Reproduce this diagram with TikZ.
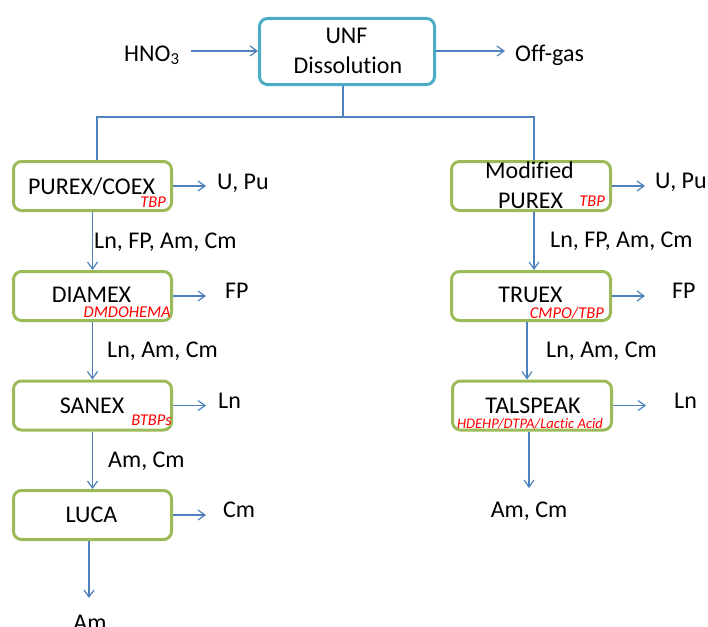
\documentclass[tikz,border=0pt]{standalone}
\usepackage{fontspec}
\setmainfont{Carlito}[RawFeature=-liga]
\usetikzlibrary{arrows.meta}
\definecolor{boxgreen}{HTML}{9BBB59}
\definecolor{boxcyan}{HTML}{4BACC6}
\definecolor{arrblue}{HTML}{4F81BD}
\begin{document}
\begin{tikzpicture}[x=1pt,y=-1pt,
  procbox/.style={draw=boxgreen, line width=3pt, rounded corners=8pt, minimum width=158pt, minimum height=49pt, inner sep=0pt},
  topbox/.style={procbox, draw=boxcyan, minimum width=175pt, minimum height=66pt},
  txt/.style={inner sep=0pt, font=\fontsize{24}{28}\selectfont, text=black},
  reagent/.style={inner sep=0pt, font=\fontsize{16.5}{18}\selectfont\itshape, text=red},
  conn/.style={draw=arrblue, line width=1.2pt},
  arr/.style={conn, -{Straight Barb[length=7pt,width=10pt]}}]
\useasboundingbox (0,0) rectangle (708,626);

% top
\node[topbox] (unf) at (347,51.5) {};
\node[txt, anchor=base] (unft) at (346.5,44) {UNF};
\node[txt, anchor=base] (dist) at (348,74) {Dissolution};
\node[txt, anchor=base west] (hno) at (124,61) {HNO\textsubscript{3}};
\node[txt, anchor=base west] (offgas) at (515,61) {Off-gas};
\coordinate (hnoA) at (191,51);
\coordinate (offA) at (505,51);
\draw[arr] (hnoA) -- (unf.west |- hnoA);
\draw[arr] (unf.east |- offA) -- (offA);

% boxes left
\node[procbox] (purex) at (92.5,186) {};
\node[procbox] (diamex) at (92.5,296) {};
\node[procbox] (sanex) at (92.5,405.5) {};
\node[procbox] (luca) at (92.5,515) {};
% boxes right
\node[procbox, minimum width=159pt] (mpurex) at (531,186) {};
\node[procbox, minimum width=159pt] (truex) at (531,296) {};
\node[procbox, minimum width=159pt] (talspeak) at (532,405.5) {};

% splitter
\coordinate (jc) at (343,117);
\coordinate (jl) at (97,117);
\coordinate (jr) at (534,117);
\draw[conn] (unf.south -| jc) -- (jc);
\draw[conn] (jl |- purex.north) -- (jl) -- (jr) -- (jr |- mpurex.north);

% left texts
\node[txt, anchor=base] (purext) at (91.5,194) {PUREX/COEX};
\node[reagent, anchor=base east] (tbp1) at (166,207) {TBP};
\node[txt, anchor=base west] (upu1) at (217,189) {U, Pu};
\node[txt, anchor=base west] (l1) at (94,248) {Ln, FP, Am, Cm};
\node[txt, anchor=base] (diamext) at (91.5,302) {DIAMEX};
\node[reagent, anchor=base east] (dmdo) at (171,317) {DMDOHEMA};
\node[txt, anchor=base west] (fp1) at (225,298) {FP};
\node[txt, anchor=base west] (l2) at (107,357) {Ln, Am, Cm};
\node[txt, anchor=base] (sanext) at (92,413) {SANEX};
\node[reagent, anchor=base east] (btbp) at (172,425) {BTBPs};
\node[txt, anchor=base west] (ln1) at (218,408) {Ln};
\node[txt, anchor=base west] (l3) at (108,467) {Am, Cm};
\node[txt, anchor=base] (lucat) at (91.5,522) {LUCA};
\node[txt, anchor=base west] (cm1) at (223,517) {Cm};
\node[txt, anchor=base] (am1) at (90,630) {Am};

% right texts
\node[txt, anchor=base] (modt) at (529.5,178) {Modified};
\node[txt, anchor=base] (mpurext) at (530.5,208) {PUREX};
\node[reagent, anchor=base east] (tbp2) at (605,206) {TBP};
\node[txt, anchor=base west] (upu2) at (655,188) {U, Pu};
\node[txt, anchor=base west] (r1) at (550,247) {Ln, FP, Am, Cm};
\node[txt, anchor=base] (truext) at (530.5,302) {TRUEX};
\node[reagent, anchor=base east] (cmpo) at (604,318) {CMPO/TBP};
\node[txt, anchor=base west] (fp2) at (672,298) {FP};
\node[txt, anchor=base west] (r2) at (546,357) {Ln, Am, Cm};
\node[txt, anchor=base] (talt) at (533,413) {TALSPEAK};
\node[reagent, anchor=base, font=\fontsize{14.6}{16}\selectfont\itshape] (hdehp) at (530,428) {HDEHP/DTPA/Lactic Acid};
\node[txt, anchor=base west] (ln2) at (674,408) {Ln};
\node[txt, anchor=base] (amcm2) at (529,517) {Am, Cm};

% side arrows
\draw[arr] (purex.east) -- ([xshift=33pt]purex.east);
\draw[arr] (diamex.east) -- ([xshift=33pt]diamex.east);
\draw[arr] (sanex.east) -- ([xshift=33pt]sanex.east);
\draw[arr] (luca.east) -- ([xshift=33pt]luca.east);
\draw[arr] (mpurex.east) -- ([xshift=33pt]mpurex.east);
\draw[arr] (truex.east) -- ([xshift=33pt]truex.east);
\draw[arr] (talspeak.east) -- ([xshift=33pt]talspeak.east);

% down arrows
\draw[arr] (purex.south) -- (diamex.north);
\draw[arr] (diamex.south) -- (sanex.north);
\draw[arr] (sanex.south) -- (luca.north);
\coordinate (amA) at (89,598);
\draw[arr] (luca.south -| amA) -- (amA);
\draw[arr] (mpurex.south -| jr) -- (truex.north -| jr);
\coordinate (rB) at (527,0);
\draw[arr] (truex.south -| rB) -- (talspeak.north -| rB);
\coordinate (amcmA) at (529,488);
\draw[arr] (talspeak.south -| amcmA) -- (amcmA);
\end{tikzpicture}
\end{document}
